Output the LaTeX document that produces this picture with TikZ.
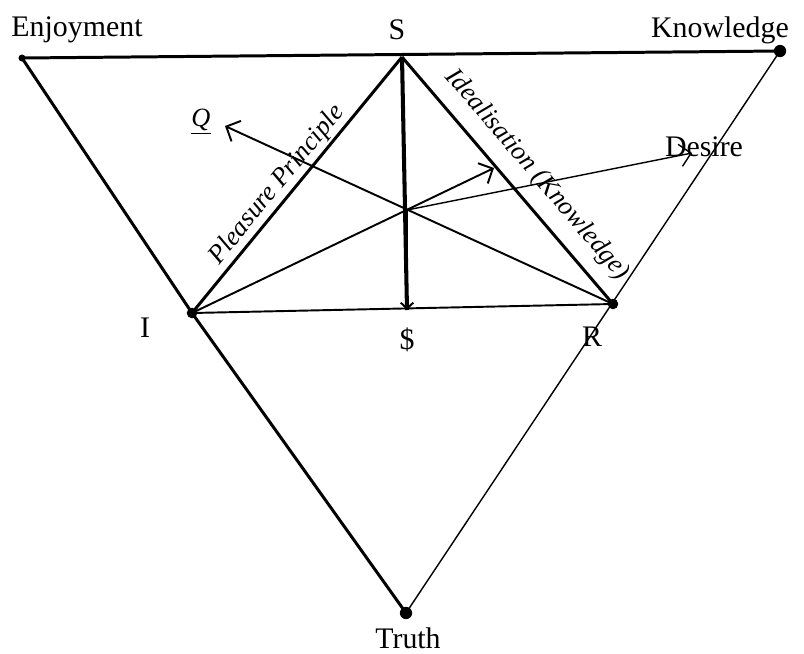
\documentclass[tikz,border=0pt]{standalone}
\usepackage{fontspec}
\setmainfont{Liberation Serif}
\usetikzlibrary{arrows.meta}

\begin{document}
\begin{tikzpicture}[x=0.02cm,y=-0.02cm,>={Straight Barb[length=2.2mm,width=4.5mm]},
  heavy/.style={line width=1.7pt},
  medium/.style={line width=1.1pt},
  light/.style={line width=0.8pt},
  lbl/.style={font=\fontsize{17}{20}\selectfont,inner sep=0pt},
  hand/.style={font=\fontsize{15}{18}\selectfont\itshape,inner sep=0pt},
  dot/.style={circle,fill,inner sep=0pt,minimum size=#1}]
\useasboundingbox (0,0) rectangle (804,653);
% corner points of the big triangle and the inner one
\coordinate (E) at (22,58);
\coordinate (K) at (780,51);
\coordinate (T) at (406,613);
\coordinate (S) at (402,57);
\coordinate (I) at (192,313);
\coordinate (R) at (613,304);
\coordinate (B) at (407,310);
\coordinate (C) at (407,210);
\coordinate (Qtip) at (225,126);
\coordinate (Dtip) at (692,153);
\coordinate (Atip) at (494,168);
% labels
\node[lbl] (enj) at (77,30) {Enjoyment};
\node[lbl] (s) at (397,30) {S};
\node[lbl] (know) at (720,30) {Knowledge};
\node[lbl] (des) at (704,147) {Desire};
\node[lbl] (i) at (145,328) {I};
\node[lbl] (bs) at (407,340) {\$};
\node[lbl] (r) at (592,337) {R};
\node[lbl] (truth) at (408,638) {Truth};
\node[hand] (q) at (201,122) {\underline{Q}};
\node[hand,rotate=50.5] (pp) at (277,185) {Pleasure Principle};
\node[hand,rotate=-49.4] (id) at (537,175) {Idealisation (Knowledge)};
% outer triangle
\draw[heavy] (E)--(K);
\draw[heavy] (E)--(I)--(T);
\draw[light] (K)--(T);
% inner triangle
\draw[heavy] (S)--(I);
\draw[heavy] (S)--(R);
\draw[medium] (I)--(R);
\draw[line width=2.3pt] (S)--(B);
\draw[medium,->,>={Straight Barb[length=1.2mm,width=2.5mm]}] (C)--(B);
% lines through the centre
\draw[medium,->] (R)--(Qtip);
\draw[medium,->] (I)--(Atip);
\draw[light,->] (C)--(Dtip);
% points
\node[dot=4pt] at (E) {};
\node[dot=7pt] at (K) {};
\node[dot=7pt] at (T) {};
\node[dot=6pt] at (I) {};
\node[dot=6pt] at (R) {};
\end{tikzpicture}
\end{document}
